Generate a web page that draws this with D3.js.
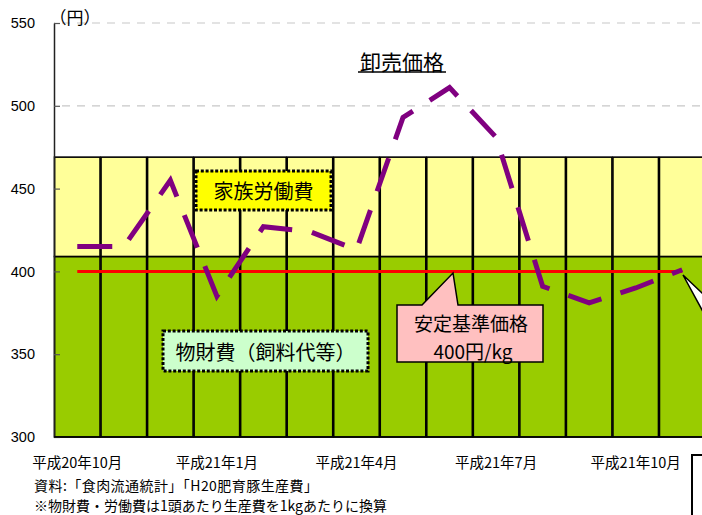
<!DOCTYPE html>
<html>
<head>
<meta charset="utf-8">
<script src="https://cdn.jsdelivr.net/npm/d3@7"></script>
<style>
  html, body { margin: 0; padding: 0; background: #fff; }
  svg { display: block; }
  text { font-family: "Noto Sans CJK JP", "Noto Sans", sans-serif; fill: #000; }
</style>
</head>
<body>
<svg id="chart" width="702" height="515"></svg>
<script>
// ---- data ----
const months = ["平成20年10月","平成20年11月","平成20年12月","平成21年1月","平成21年2月","平成21年3月",
                "平成21年4月","平成21年5月","平成21年6月","平成21年7月","平成21年8月","平成21年9月",
                "平成21年10月","平成21年11月"];
const tickMonths = ["平成20年10月","平成21年1月","平成21年4月","平成21年7月","平成21年10月"];
const materialCost = [409,409,409,409,409,409,409,409,409,409,409,409,409,409]; // 物財費（飼料代等）
const laborCost    = [60,60,60,60,60,60,60,60,60,60,60,60,60,60];              // 家族労働費
const wholesale    = [415,415,455,385,427,424,413,493,511,481,391,381,390,401]; // 卸売価格
const basePrice    = [400,400,400,400,400,400,400,400,400,400,400,400,400,400]; // 安定基準価格
const yTicks = [300,350,400,450,500,550];

// ---- layout ----
const svg = d3.select("#chart");
const x = d3.scaleBand().domain(months).range([54, 705.5]).padding(0);
const y = d3.scaleLinear().domain([300, 550]).range([437, 23]);
const cx = m => x(m) + x.bandwidth() / 2;

// gridlines
svg.append("g").selectAll("line").data(yTicks.filter(v => v > 300)).join("line")
  .attr("x1", 54).attr("x2", 702)
  .attr("y1", d => y(d)).attr("y2", d => y(d))
  .attr("stroke", "#c8c8c8").attr("stroke-width", 1.2)
  .attr("stroke-dasharray", "8,7").attr("stroke-dashoffset", -8);

// stacked bars
const bars = svg.append("g");
months.forEach((m, i) => {
  const bx = x(m) + 0.5, bw = x.bandwidth() - 1;
  bars.append("rect")
    .attr("x", bx).attr("width", bw)
    .attr("y", y(materialCost[i])).attr("height", y(300) - y(materialCost[i]))
    .attr("fill", "#99cc00").attr("stroke", "#000").attr("stroke-width", 1.6);
  const top = materialCost[i] + laborCost[i];
  bars.append("rect")
    .attr("x", bx).attr("width", bw)
    .attr("y", y(top)).attr("height", y(materialCost[i]) - y(top))
    .attr("fill", "#ffff99").attr("stroke", "#000").attr("stroke-width", 1.6);
});

// base price line
const line = d3.line().x((d, i) => cx(months[i])).y(d => y(d));
svg.append("path").datum(basePrice)
  .attr("d", line).attr("fill", "none")
  .attr("stroke", "#ff0000").attr("stroke-width", 3);

// wholesale price line
svg.append("path").datum(wholesale)
  .attr("d", line).attr("fill", "none")
  .attr("stroke", "#800080").attr("stroke-width", 5)
  .attr("stroke-dasharray", "35,20").attr("stroke-linejoin", "miter");

// y axis
const yAxis = svg.append("g").attr("transform", "translate(54,0)")
  .call(d3.axisLeft(y).tickValues(yTicks).tickSizeInner(-6).tickSizeOuter(0).tickPadding(19));
yAxis.select(".domain").attr("stroke", "#222").attr("stroke-width", 1.5);
yAxis.selectAll(".tick line").attr("stroke", "#555").attr("stroke-width", 1.2);
yAxis.selectAll(".tick text")
  .style("font-family", "'Liberation Sans', Arial, sans-serif")
  .style("font-size", "14.5px").attr("fill", "#000");

// x axis
const xAxis = svg.append("g").attr("transform", "translate(0,437)")
  .call(d3.axisBottom(x).tickValues(tickMonths).tickSize(0).tickPadding(20));
xAxis.select(".domain").remove();
svg.append("line").attr("x1", 54).attr("x2", 702).attr("y1", 437).attr("y2", 437)
  .attr("stroke", "#000").attr("stroke-width", 1.5);
xAxis.selectAll(".tick text")
  .attr("dy", "0").attr("y", 31)
  .style("font-family", "'Noto Sans CJK JP', sans-serif")
  .style("font-size", "14.5px").attr("fill", "#000");

// unit label
svg.append("text").attr("x", 75).attr("y", 16).attr("text-anchor", "middle")
  .attr("dominant-baseline", "central").style("font-size", "17px").text("（円）");

// title
svg.append("text").attr("x", 402).attr("y", 61).attr("text-anchor", "middle")
  .attr("dominant-baseline", "central").style("font-size", "21px").text("卸売価格");
svg.append("line").attr("x1", 358).attr("x2", 446).attr("y1", 72).attr("y2", 72)
  .attr("stroke", "#000").attr("stroke-width", 1.6);

// label boxes
function dotBox(x0, y0, w, h, fill, label, cyText) {
  svg.append("rect").attr("x", x0).attr("y", y0).attr("width", w).attr("height", h)
    .attr("fill", fill).attr("stroke", "#000").attr("stroke-width", 3)
    .attr("stroke-dasharray", "3,1.8");
  svg.append("text").attr("x", x0 + w / 2).attr("y", cyText).attr("text-anchor", "middle")
    .attr("dominant-baseline", "central").style("font-size", "20px").text(label);
}
dotBox(196, 171, 135, 39, "#ffff00", "家族労働費", 190);
dotBox(163, 331, 205, 40, "#ccffcc", "物財費（飼料代等）", 351);

// pink callout
svg.append("path")
  .attr("d", "M397,305 L422,305 L453,273 L458,305 L543,305 L543,362 L397,362 Z")
  .attr("fill", "#ffc0c0").attr("stroke", "#000").attr("stroke-width", 1.5);
svg.append("text").attr("x", 471).attr("y", 322).attr("text-anchor", "middle")
  .attr("dominant-baseline", "central").style("font-size", "19px").text("安定基準価格");
svg.append("text").attr("x", 473).attr("y", 350).attr("text-anchor", "middle")
  .attr("dominant-baseline", "central").style("font-size", "19px").text("400円/kg");

// cut-off callout at right edge
svg.append("path")
  .attr("d", "M683,275 L720,310 L720,343 Z")
  .attr("fill", "#fff").attr("stroke", "#000").attr("stroke-width", 1.5);

// cut-off box bottom right
svg.append("rect").attr("x", 692).attr("y", 455).attr("width", 40).attr("height", 80)
  .attr("fill", "#fff").attr("stroke", "#000").attr("stroke-width", 2);

// source notes
svg.append("text").attr("x", 34).attr("y", 485).attr("dominant-baseline", "central")
  .attr("textLength", 284).attr("lengthAdjust", "spacing")
  .style("font-size", "14px").text("資料:「食肉流通統計」「H20肥育豚生産費」");
svg.append("text").attr("x", 34).attr("y", 505).attr("dominant-baseline", "central")
  .style("font-size", "14px").text("※物財費・労働費は1頭あたり生産費を1kgあたりに換算");
</script>
</body>
</html>
